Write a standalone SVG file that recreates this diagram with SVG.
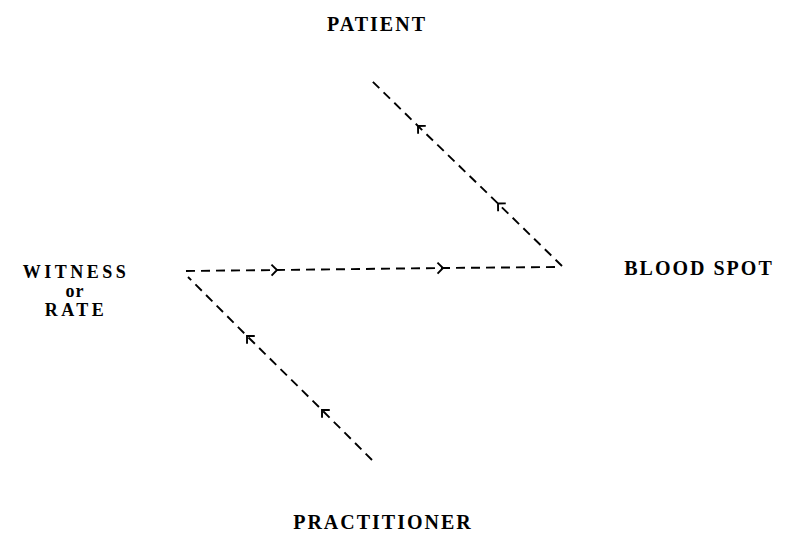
<svg xmlns="http://www.w3.org/2000/svg" width="796" height="546" viewBox="0 0 796 546">
<defs>
<marker id="chev" markerWidth="14" markerHeight="14" refX="7" refY="7" orient="auto" markerUnits="userSpaceOnUse">
<path d="M1.5,1.5 L7,7 L1.5,12.5" fill="none" stroke="#000" stroke-width="1.9"/>
</marker>
</defs>
<style>
.lbl{font-family:"Liberation Serif","Times New Roman",serif;font-size:20px;font-weight:bold;letter-spacing:2px;fill:#000;text-anchor:middle}
.sm{font-size:18px;letter-spacing:3.5px}
.or{letter-spacing:1px}
.con{fill:none;stroke:#000;stroke-width:1.9;stroke-dasharray:9 6;marker-mid:url(#chev)}
</style>
<rect width="796" height="546" fill="#fff"/>
<g id="connectors">
<polyline class="con" points="562,266 498,203.5 418,126 370,79"/>
<polyline class="con" points="186,271 277,270 443,268 560,267"/>
<polyline class="con" points="372,460 322,410 247,336 188,277"/>
</g>
<g id="patient"><text class="lbl" x="377" y="31">PATIENT</text></g>
<g id="bloodspot"><text class="lbl" x="699" y="275">BLOOD SPOT</text></g>
<g id="witness">
<text class="lbl sm" x="76" y="278">WITNESS</text>
<text class="lbl sm or" x="75" y="297">or</text>
<text class="lbl sm" x="76" y="316">RATE</text>
</g>
<g id="practitioner"><text class="lbl" x="383" y="529">PRACTITIONER</text></g>
</svg>
